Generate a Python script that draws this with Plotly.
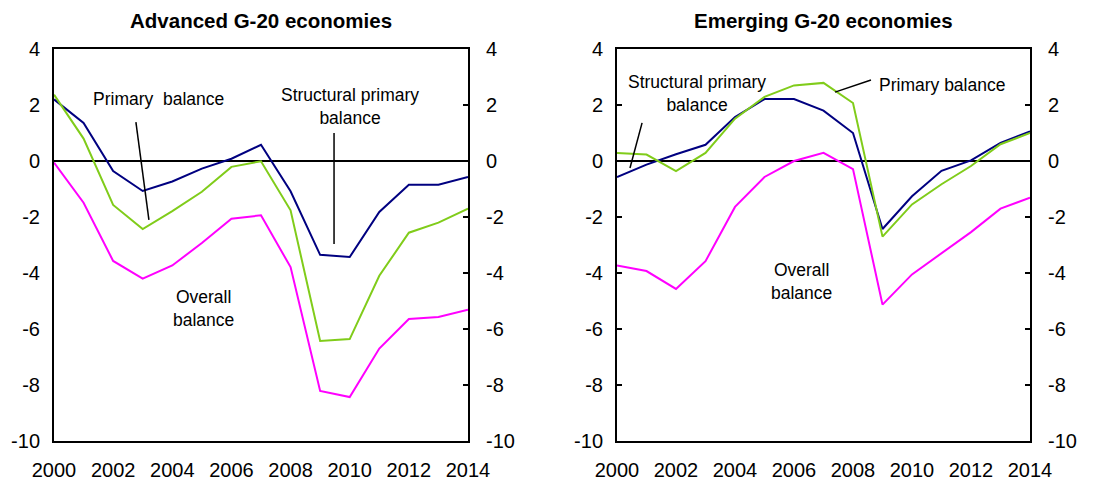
import plotly.graph_objects as go

years = list(range(2000, 2015))

adv_structural = [2.2, 1.36, -0.36, -1.07, -0.73, -0.27, 0.08, 0.58, -1.08, -3.35, -3.43, -1.82, -0.85, -0.85, -0.57]
adv_primary = [2.37, 0.8, -1.57, -2.43, -1.79, -1.1, -0.21, -0.01, -1.76, -6.43, -6.36, -4.1, -2.56, -2.2, -1.7]
adv_overall = [-0.06, -1.49, -3.57, -4.2, -3.73, -2.93, -2.06, -1.94, -3.79, -8.21, -8.43, -6.7, -5.64, -5.57, -5.31]

emg_structural = [-0.57, -0.13, 0.24, 0.58, 1.57, 2.21, 2.21, 1.8, 1.0, -2.43, -1.26, -0.35, 0.02, 0.65, 1.06]
emg_primary = [0.29, 0.23, -0.36, 0.29, 1.51, 2.29, 2.7, 2.79, 2.07, -2.7, -1.55, -0.83, -0.18, 0.6, 1.0]
emg_overall = [-3.73, -3.93, -4.57, -3.58, -1.64, -0.57, 0.0, 0.29, -0.29, -5.13, -4.05, -3.29, -2.54, -1.7, -1.31]

titles = ["Advanced G-20 economies", "Emerging G-20 economies"]
y_ticks = [4, 2, 0, -2, -4, -6, -8, -10]
y_ticktext = ["4", "2", "0", "-2", "-4", "-6", "-8", "-10"]
x_ticks = [2000, 2002, 2004, 2006, 2008, 2010, 2012, 2014]

NAVY = "#000080"
GREEN = "#80CC1A"
MAGENTA = "#FF00FF"
FONT = "Liberation Sans, Arial, sans-serif"

# page has an 8px body margin; figure is sized to fit inside the window
OFF = 8
W, H = 1114 - OFF, 483 - OFF


def px(xs):
    return (xs - OFF) / W


def py(ys):
    return 1 - (ys - OFF) / H


fig = go.Figure()

panels = [
    ("x", "y", adv_structural, adv_primary, adv_overall),
    ("x2", "y3", emg_structural, emg_primary, emg_overall),
]
for xa, ya, s, p, o in panels:
    for vals, col, name in [(s, NAVY, "Structural primary balance"),
                            (p, GREEN, "Primary balance"),
                            (o, MAGENTA, "Overall balance")]:
        fig.add_trace(go.Scatter(x=years, y=vals, mode="lines", name=name,
                                 line=dict(color=col, width=2),
                                 xaxis=xa, yaxis=ya, showlegend=False))

# zero lines
for xref, yref in [("x", "y"), ("x2", "y3")]:
    fig.add_shape(type="line", xref=xref, yref=yref, x0=2000, x1=2014, y0=0, y1=0,
                  line=dict(color="black", width=2), layer="below")

# leader lines
leaders = [
    ("x", "y", 2002.77, 1.39, 2003.21, -2.1),
    ("x", "y", 2009.47, 1.0, 2009.47, -2.96),
    ("x2", "y3", 2000.85, 1.36, 2000.44, -0.25),
    ("x2", "y3", 2008.61, 2.89, 2007.39, 2.46),
]
for xref, yref, x0, y0, x1, y1 in leaders:
    fig.add_shape(type="line", xref=xref, yref=yref, x0=x0, y0=y0, x1=x1, y1=y1,
                  line=dict(color="black", width=1.5))

labels = [
    ("x", "y", 2003.55, 2.23, "Primary  balance"),
    ("x", "y", 2010.0, 1.95, "Structural primary<br>balance"),
    ("x", "y", 2005.04, -5.25, "Overall<br>balance"),
    ("x2", "y3", 2002.7, 2.4, "Structural primary<br>balance"),
    ("x2", "y3", 2011.0, 2.70, "Primary balance"),
    ("x2", "y3", 2006.27, -4.3, "Overall<br>balance"),
]
for xref, yref, x, y, t in labels:
    fig.add_annotation(xref=xref, yref=yref, x=x, y=y, text=t, showarrow=False,
                       font=dict(family=FONT, size=17.5, color="black"),
                       align="center")

# titles
for xc, t in [((54 + 468) / 2, titles[0]), ((617 + 1030) / 2, titles[1])]:
    fig.add_annotation(xref="paper", yref="paper", x=px(xc), y=py(20), text="<b>" + t + "</b>",
                       showarrow=False, font=dict(family=FONT, size=20.5, color="black"),
                       xanchor="center", yanchor="middle")

ydom = [py(441), py(49)]
xd1 = [px(54), px(468)]
xd2 = [px(617), px(1030)]

xcommon = dict(range=[2000, 2014], tickvals=x_ticks, ticks="", showgrid=False,
               zeroline=False, showline=True, linecolor="black", linewidth=2, mirror=True,
               automargin=False,
               tickfont=dict(family=FONT, size=20, color="black"), ticklabelstandoff=10)
ycommon = dict(range=[-10, 4], tickvals=y_ticks, ticktext=y_ticktext, showgrid=False,
               zeroline=False, automargin=False,
               showline=True, linecolor="black", linewidth=2,
               ticklen=5, tickwidth=1.5, tickcolor="black",
               tickfont=dict(family=FONT, size=20, color="black"))

fig.update_layout(
    width=W, height=H,
    margin=dict(l=0, r=0, t=0, b=0),
    paper_bgcolor="white", plot_bgcolor="white",
    xaxis=dict(domain=xd1, anchor="y", **xcommon),
    xaxis2=dict(domain=xd2, anchor="y3", **xcommon),
    yaxis=dict(domain=ydom, anchor="x", side="left", ticks="", ticklabelstandoff=8, **ycommon),
    yaxis2=dict(domain=ydom, anchor="x", overlaying="y", side="right", ticks="inside",
                ticklabelstandoff=12, **ycommon),
    yaxis3=dict(domain=ydom, anchor="x2", side="left", ticks="inside", ticklabelstandoff=8, **ycommon),
    yaxis4=dict(domain=ydom, anchor="x2", overlaying="y3", side="right", ticks="inside",
                ticklabelstandoff=12, **ycommon),
)

# invisible traces to activate the right-side axes
fig.add_trace(go.Scatter(x=[2000], y=[0], xaxis="x", yaxis="y2", mode="markers",
                         marker=dict(opacity=0), showlegend=False, hoverinfo="skip"))
fig.add_trace(go.Scatter(x=[2000], y=[0], xaxis="x2", yaxis="y4", mode="markers",
                         marker=dict(opacity=0), showlegend=False, hoverinfo="skip"))

fig.write_html("out.html")
